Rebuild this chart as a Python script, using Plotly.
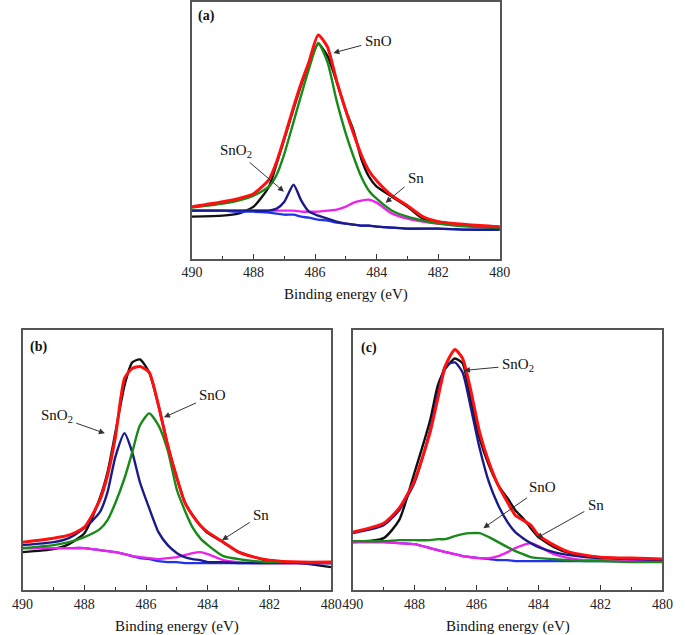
import plotly.graph_objects as go

# Binding energy grid (eV), shared by all panels
energy = [490, 489, 488.5, 488, 487.5, 487.25, 487, 486.7, 486.45, 486.2, 485.9, 485.6,
          485.3, 485, 484.75, 484.5, 484.25, 484, 483.5, 483, 482.5, 482, 481, 480]

# ---- Panel (a) intensities (a.u.)
a_raw = [42, 43, 45, 52, 72, 95, 120, 150, 174, 194, 215, 203, 177, 148, 128, 100, 82, 72, 62, 52, 40, 37, 33, 30]
a_fit = [52, 57, 60, 65, 79, 97, 121, 152, 176, 197, 224, 212, 178, 148, 125, 104, 88, 78, 63, 53, 42, 37, 34, 32]
a_sno = [51, 55, 58, 63, 72, 84, 105, 137, 164, 190, 216, 197, 158, 125, 102, 82, 68, 60, 48, 42, 38, 35, 32, 31]
a_sno2 = [48, 48, 48, 48, 48, 50, 57, 74, 58, 47, 43, 40, 37, 35, 34, 33, 33, 32, 31, 30, 30, 30, 29, 29]
a_sn = [48, 48, 48, 48, 48, 48, 48, 48, 47, 47, 47, 48, 49, 52, 56, 58, 59, 56, 45, 40, 37, 35, 33, 32]
a_bg = [48, 48, 47, 47, 46, 45, 44, 44, 42, 41, 39, 38, 36, 35, 34, 33, 33, 32, 31, 30, 30, 30, 29, 29]

# ---- Panel (b)
b_raw = [38, 41, 46, 57, 92, 118, 157, 205, 228, 231, 218, 185, 145, 112, 88, 75, 65, 57, 48, 38, 33, 29, 27, 23]
b_fit = [48, 52, 55, 63, 90, 115, 152, 212, 222, 224, 218, 185, 145, 112, 88, 75, 65, 58, 48, 38, 33, 30, 28, 28]
b_sno = [42, 45, 48, 53, 61, 70, 87, 112, 138, 165, 177, 165, 140, 100, 80, 63, 52, 45, 34, 31, 29, 28, 28, 27]
b_sno2 = [45, 48, 52, 62, 78, 98, 133, 157, 138, 108, 82, 58, 45, 37, 33, 31, 30, 28, 28, 27, 27, 27, 27, 27]
b_sn = [42, 42, 42, 42, 40, 39, 38, 36, 34, 33, 32, 31, 32, 33, 35, 37, 38, 36, 30, 28, 27, 27, 27, 27]
b_bg = [42, 42, 42, 42, 40, 39, 38, 36, 34, 32, 31, 29, 28, 28, 27, 27, 27, 27, 27, 27, 27, 27, 27, 27]

# ---- Panel (c)
c_raw = [48, 52, 70, 118, 170, 205, 222, 232, 227, 192, 152, 125, 105, 92, 80, 72, 62, 53, 43, 37, 34, 33, 31, 30]
c_fit = [58, 67, 82, 110, 158, 192, 225, 241, 232, 202, 158, 128, 105, 88, 75, 70, 65, 55, 45, 38, 35, 33, 32, 31]
c_sno = [49, 49, 50, 50, 50, 51, 51, 54, 56, 57, 57, 53, 48, 43, 39, 36, 33, 32, 31, 30, 29, 29, 28, 28]
c_sno2 = [57, 65, 80, 108, 160, 197, 225, 228, 218, 185, 142, 108, 85, 68, 58, 52, 47, 43, 38, 35, 33, 32, 31, 30]
c_sn = [48, 48, 47, 46, 42, 40, 38, 36, 34, 33, 32, 32, 34, 38, 42, 45, 47, 44, 36, 32, 30, 30, 29, 29]
c_bg = [48, 48, 47, 46, 42, 40, 38, 36, 34, 33, 32, 31, 30, 30, 29, 29, 29, 29, 29, 29, 29, 29, 29, 29]

panel_labels = ["(a)", "(b)", "(c)"]
x_ticks = [490, 488, 486, 484, 482, 480]
x_title = "Binding energy (eV)"

W, H = 685, 635

def px(x, y):
    return x / W, 1 - y / H

colors = {"raw": "#111111", "bg": "#2233ee", "sn": "#ee22ee", "sno2": "#1a1a88", "sno": "#178a17", "fit": "#ff1010"}

fig = go.Figure()

panels = [
    ("x", "y", dict(raw=a_raw, bg=a_bg, sn=a_sn, sno2=a_sno2, sno=a_sno, fit=a_fit)),
    ("x2", "y2", dict(raw=b_raw, bg=b_bg, sn=b_sn, sno2=b_sno2, sno=b_sno, fit=b_fit)),
    ("x3", "y3", dict(raw=c_raw, bg=c_bg, sn=c_sn, sno2=c_sno2, sno=c_sno, fit=c_fit)),
]
order = ["raw", "bg", "sn", "sno2", "sno", "fit"]
for xa, ya, d in panels:
    for k in order:
        fig.add_trace(go.Scatter(
            x=energy, y=d[k], xaxis=xa, yaxis=ya, mode="lines",
            line=dict(color=colors[k], width=3 if k == "fit" else 2.4, shape="spline", smoothing=0.6),
            showlegend=False, hoverinfo="skip"))

# panel boxes in pixels: (left, top, right, bottom)
boxes = [(187, 1, 505, 258), (12, 330, 331, 590), (353, 330, 673, 590)]
yranges = [[0, 257], [0, 260], [0, 260]]

serif = "Liberation Serif, Times New Roman, serif"
axfont = dict(family=serif, size=14, color="#222")
layout = dict(width=W, height=H, margin=dict(l=0, r=0, t=0, b=0),
              paper_bgcolor="white", plot_bgcolor="white", showlegend=False)
for i, (l, t, r, b) in enumerate(boxes):
    suffix = "" if i == 0 else str(i + 1)
    x0, y1 = px(l, t)
    x1, y0 = px(r, b)
    layout["xaxis" + suffix] = dict(
        domain=[x0, x1], range=[490, 480], anchor="y" + suffix,
        tickvals=x_ticks, ticks="inside", ticklen=5, tickcolor="#333", tickwidth=1.2,
        minor=dict(dtick=1, ticks="inside", ticklen=3, tickcolor="#333", tickwidth=1),
        showline=True, linecolor="#555", linewidth=1.5, mirror=True,
        showgrid=False, zeroline=False, tickfont=axfont)
    layout["yaxis" + suffix] = dict(
        domain=[y0, y1], range=yranges[i], anchor="x" + suffix,
        showticklabels=False, ticks="", showline=True, linecolor="#555", linewidth=1.5,
        mirror=True, showgrid=False, zeroline=False)
fig.update_layout(**layout)

ann = []
# axis titles
for (l, t, r, b) in boxes:
    cx, cy = px((l + r) / 2, b + 36)
    ann.append(dict(x=cx, y=cy, xref="paper", yref="paper", text=x_title, showarrow=False,
                    font=dict(family=serif, size=15, color="#111"), xanchor="center", yanchor="middle"))
# panel labels
for lab, (xp, yp) in zip(panel_labels, [(202, 15), (28, 347), (370, 348)]):
    cx, cy = px(xp, yp)
    ann.append(dict(x=cx, y=cy, xref="paper", yref="paper", text="<b>" + lab + "</b>", showarrow=False,
                    font=dict(family=serif, size=14, color="#111"), xanchor="center", yanchor="middle"))

# species labels with arrows: (text, text_center, arrow_head)
labels = [
    ("SnO", (378, 40), (333, 52)),
    ("SnO<sub>2</sub>", (234, 150), (282, 191)),
    ("Sn", (417, 177), (387, 202)),
    ("SnO<sub>2</sub>", (49, 416), (97, 433)),
    ("SnO", (207, 395), (158, 417)),
    ("Sn", (257, 515), (218, 540)),
    ("SnO<sub>2</sub>", (522, 365), (468, 370)),
    ("SnO", (547, 487), (488, 528)),
    ("Sn", (602, 505), (543, 538)),
]
for txt, tp, head in labels:
    hx, hy = px(*head)
    ann.append(dict(x=hx, y=hy, xref="paper", yref="paper", text=txt, showarrow=True,
                    ax=tp[0] - head[0], ay=tp[1] - head[1], axref="pixel", ayref="pixel",
                    font=dict(family=serif, size=15, color="#111"),
                    arrowhead=2, arrowsize=1.2, arrowwidth=1, arrowcolor="#333", standoff=0, startstandoff=2))
fig.update_layout(annotations=ann)

fig.write_html("out.html", config={"displayModeBar": False},
               post_script="document.body.style.margin='0';document.body.style.padding='0';")
